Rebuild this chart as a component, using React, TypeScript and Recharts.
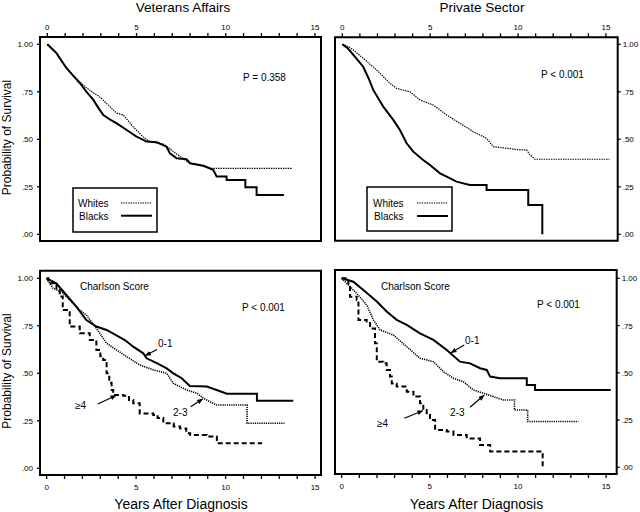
import React from 'react';
import { LineChart, Line, XAxis, YAxis, ReferenceArea } from 'recharts';

type Pt = { t: number; s: number };
const P = (arr: number[][]): Pt[] => arr.map(([t, s]) => ({ t, s }));

const xTicks = [0, 1, 2, 3, 4, 5, 6, 7, 8, 9, 10, 11, 12, 13, 14, 15];
const xTickLabels = [0, 5, 10, 15];
const yTicks = [0, 0.25, 0.5, 0.75, 1];
const yTickLabels = ['.00', '.25', '.50', '.75', '1.00'];

const vaWhites = P([[0,1],[0.5,.955],[1.08,.874],[1.5,.83],[2.0,.786],[2.5,.75],[2.95,.722],[3.5,.672],[3.9,.637],[4.26,.628],[4.8,.567],[5.4,.51],[5.75,.488],[6.5,.475],[6.8,.455],[7.06,.435],[7.43,.41],[8.0,.374],[8.5,.365],[8.93,.356],[9.2,.347],[13.7,.347]]);
const vaBlacks = P([[0,1],[0.5,.955],[1.08,.874],[1.5,.83],[1.83,.795],[2.2,.75],[2.58,.707],[2.9,.66],[3.14,.628],[3.5,.605],[3.89,.584],[4.45,.549],[5.0,.514],[5.57,.488],[6.13,.484],[6.69,.461],[6.87,.426],[7.25,.4],[7.8,.395],[8.0,.374],[8.74,.361],[9.3,.339],[9.49,.304],[10.05,.304],[10.05,.286],[11.1,.286],[11.1,.247],[11.73,.247],[11.73,.207],[13.26,.207]]);

const psWhites = P([[0,1],[0.3,.99],[0.63,.97],[1.19,.926],[1.95,.865],[2.71,.795],[3.09,.768],[3.85,.75],[4.42,.707],[5.18,.68],[5.94,.628],[6.69,.584],[7.45,.54],[8.21,.505],[8.59,.461],[9.35,.453],[10.1,.444],[10.49,.444],[10.68,.418],[10.96,.395],[15.2,.395]]);
const psBlacks = P([[0,1],[0.3,.98],[0.63,.944],[1.19,.882],[1.5,.82],[1.76,.76],[2.33,.672],[2.9,.602],[3.28,.549],[3.66,.479],[4.04,.435],[4.6,.391],[4.99,.365],[5.56,.321],[5.94,.304],[6.5,.277],[7.26,.26],[8.21,.26],[8.21,.233],[10.58,.233],[10.58,.154],[11.38,.154],[11.38,0]]);

const vaC01 = P([[0,1],[0.54,.974],[1.1,.912],[1.66,.851],[2.22,.78],[2.78,.746],[3.35,.728],[3.9,.70],[4.37,.675],[4.84,.64],[5.4,.605],[5.59,.579],[6.15,.553],[6.71,.526],[7.08,.5],[7.55,.474],[8.0,.433],[8.95,.43],[9.5,.412],[10.07,.393],[11.75,.393],[11.75,.356],[13.78,.356]]);
const vaC23 = P([[0,1],[0.36,.947],[0.8,.93],[1.1,.904],[1.85,.833],[2.22,.807],[2.78,.737],[3.35,.658],[3.9,.623],[4.47,.588],[5.2,.544],[5.96,.518],[6.71,.5],[7.08,.447],[7.83,.412],[8.4,.395],[8.77,.368],[9.5,.333],[11.2,.333],[11.2,.237],[13.29,.237]]);
const vaC4 = P([[0,1],[0.1,.974],[0.55,.94],[0.73,.904],[0.9,.833],[1.29,.746],[1.85,.711],[2.41,.675],[2.78,.623],[3.0,.59],[3.16,.57],[3.35,.5],[3.5,.45],[3.63,.412],[3.72,.386],[4.28,.382],[4.6,.36],[4.84,.342],[5.2,.289],[5.96,.281],[6.2,.265],[6.52,.237],[7.1,.22],[7.46,.21],[7.8,.185],[8.02,.175],[8.95,.167],[9.51,.132],[12.04,.132]]);

const psC01 = P([[0,1],[0.66,.982],[1.23,.938],[1.99,.877],[2.55,.824],[3.12,.78],[3.69,.753],[4.44,.709],[5.2,.674],[5.96,.621],[6.71,.559],[7.28,.55],[7.85,.524],[8.23,.515],[8.42,.48],[8.98,.471],[10.5,.471],[10.5,.436],[10.97,.436],[10.97,.409],[15.26,.409]]);
const psC23 = P([[0,1],[0.47,.956],[0.85,.92],[1.42,.859],[1.8,.78],[2.17,.727],[2.93,.7],[3.69,.638],[4.44,.577],[5.2,.559],[5.77,.506],[6.34,.471],[6.9,.453],[7.47,.409],[8.04,.392],[8.6,.374],[9.17,.356],[9.8,.356],[9.8,.303],[10.55,.303],[10.55,.242],[13.43,.242]]);
const psC4 = P([[0,1],[0.38,.965],[0.47,.903],[0.85,.885],[0.95,.78],[1.42,.771],[1.61,.735],[1.89,.656],[1.99,.559],[2.36,.55],[2.55,.515],[2.74,.48],[2.84,.444],[3.12,.427],[3.5,.427],[3.69,.4],[4.07,.374],[4.44,.339],[4.63,.303],[4.82,.286],[5.01,.25],[5.3,.198],[5.96,.189],[6.34,.171],[7.09,.153],[7.85,.118],[8.42,.083],[11.4,.083],[11.4,0]]);

const FONT = '"Liberation Sans", Arial, Helvetica, sans-serif';
const W = 640, H = 512;

type Series = { data: Pt[]; width: number; dash?: string; type: 'linear' | 'stepAfter' };

const solid = (data: Pt[]): Series => ({ data, width: 2, type: 'linear' });
const dotted = (data: Pt[]): Series => ({ data, width: 1.2, dash: '1.4 1', type: 'linear' });
const dotted2 = (data: Pt[]): Series => ({ data, width: 1.6, dash: '1.2 1', type: 'linear' });
const dashed = (data: Pt[]): Series => ({ data, width: 2, dash: '5 3', type: 'stepAfter' });

type PanelProps = {
  box: { l: number; t: number; r: number; b: number };
  xDomain: [number, number];
  yDomain: [number, number];
  xOrient: 'top' | 'bottom';
  yOrient: 'left' | 'right';
  series: Series[];
};

function Panel({ box, xDomain, yDomain, xOrient, yOrient, series }: PanelProps) {
  const XH = 18, YW = 20;
  const margin = {
    top: xOrient === 'top' ? box.t - XH : box.t,
    bottom: xOrient === 'bottom' ? H - box.b - XH : H - box.b,
    left: yOrient === 'left' ? box.l - YW : box.l,
    right: yOrient === 'right' ? W - box.r - YW : W - box.r,
  };
  const xTick = (props: any) => {
    const { x, y, payload } = props;
    if (!xTickLabels.includes(payload.value)) return <g />;
    return (
      <text x={x} y={y} dy={xOrient === 'top' ? -1 : 9} textAnchor="middle" fontSize={8} fontFamily={FONT} fill="#000">
        {payload.value}
      </text>
    );
  };
  const yTick = (props: any) => {
    const { x, y, payload } = props;
    const idx = yTicks.indexOf(payload.value);
    return (
      <text x={x} y={y} dy={3} textAnchor={yOrient === 'left' ? 'end' : 'start'} fontSize={8} fontFamily={FONT} fill="#000">
        {yTickLabels[idx]}
      </text>
    );
  };
  return (
    <div style={{ position: 'absolute', left: 0, top: 0 }}>
      <LineChart width={W} height={H} margin={margin}>
        <XAxis
          type="number"
          dataKey="t"
          domain={xDomain}
          ticks={xTicks}
          interval={0}
          allowDataOverflow
          orientation={xOrient}
          height={XH}
          axisLine={false}
          tickLine={{ stroke: '#000', strokeWidth: 1.3 }}
          tickSize={4}
          tickMargin={2}
          tick={xTick}
        />
        <YAxis
          type="number"
          dataKey="s"
          domain={yDomain}
          ticks={yTicks}
          interval={0}
          allowDataOverflow
          orientation={yOrient}
          width={YW}
          axisLine={false}
          tickLine={{ stroke: '#000', strokeWidth: 1.3 }}
          tickSize={3}
          tickMargin={yOrient === 'left' ? 4 : 2}
          tick={yTick}
        />
        <ReferenceArea x1={xDomain[0]} x2={xDomain[1]} y1={yDomain[0]} y2={yDomain[1]} fill="none" fillOpacity={0} stroke="#000" strokeWidth={2} ifOverflow="visible" />
        {series.map((s, i) => (
          <Line
            key={i}
            data={s.data}
            dataKey="s"
            type={s.type}
            stroke="#000"
            strokeWidth={s.width}
            strokeDasharray={s.dash}
            dot={false}
            activeDot={false}
            isAnimationActive={false}
          />
        ))}
      </LineChart>
    </div>
  );
}

function Arrow({ x1, y1, x2, y2 }: { x1: number; y1: number; x2: number; y2: number }) {
  return <line x1={x1} y1={y1} x2={x2} y2={y2} stroke="#000" strokeWidth={1.2} markerEnd="url(#ah)" />;
}

function Overlay() {
  const t = { fontFamily: FONT, fill: '#000' } as const;
  return (
    <svg width={W} height={H} style={{ position: 'absolute', left: 0, top: 0 }}>
      <defs>
        <marker id="ah" viewBox="0 0 10 10" refX="9" refY="5" markerWidth="6" markerHeight="6" orient="auto-start-reverse" markerUnits="userSpaceOnUse">
          <path d="M0,1 L10,5 L0,9 z" fill="#000" />
        </marker>
      </defs>
      <text x={183} y={12} textAnchor="middle" fontSize={13.5} {...t}>Veterans Affairs</text>
      <text x={482} y={12} textAnchor="middle" fontSize={13.5} {...t}>Private Sector</text>
      <text x={181} y={509} textAnchor="middle" fontSize={14} {...t}>Years After Diagnosis</text>
      <text x={476.5} y={509} textAnchor="middle" fontSize={14} {...t}>Years After Diagnosis</text>
      <text transform="translate(11,137.5) rotate(-90)" textAnchor="middle" fontSize={12} {...t}>Probability of Survival</text>
      <text transform="translate(11,371) rotate(-90)" textAnchor="middle" fontSize={12} {...t}>Probability of Survival</text>

      <text x={243} y={80.5} fontSize={10} {...t}>P  = 0.358</text>
      <text x={541} y={77.5} fontSize={10} {...t}>P &lt; 0.001</text>
      <text x={242} y={311} fontSize={10} {...t}>P &lt; 0.001</text>
      <text x={537} y={308} fontSize={10} {...t}>P &lt; 0.001</text>

      <rect x={73} y={188} width={84} height={44} fill="#fff" stroke="#000" strokeWidth={1.5} />
      <text x={78} y={207} fontSize={10} {...t}>Whites</text>
      <text x={79} y={219.5} fontSize={10} {...t}>Blacks</text>
      <line x1={121} y1={203} x2={152} y2={203} stroke="#000" strokeWidth={1.2} strokeDasharray="1.4 1" />
      <line x1={121} y1={215.7} x2={152} y2={215.7} stroke="#000" strokeWidth={2} />

      <rect x={367} y={187} width={85} height={44} fill="#fff" stroke="#000" strokeWidth={1.5} />
      <text x={373} y={207} fontSize={10} {...t}>Whites</text>
      <text x={374} y={219.5} fontSize={10} {...t}>Blacks</text>
      <line x1={417} y1={203} x2={448} y2={203} stroke="#000" strokeWidth={1.2} strokeDasharray="1.4 1" />
      <line x1={417} y1={216} x2={448} y2={216} stroke="#000" strokeWidth={2} />

      <text x={80} y={290} fontSize={10} {...t}>Charlson Score</text>
      <text x={381} y={290} fontSize={10} {...t}>Charlson Score</text>

      <text x={158} y={347} fontSize={10} {...t}>0-1</text>
      <Arrow x1={157} y1={349.5} x2={145.5} y2={355.5} />
      <text x={173} y={415.5} fontSize={10} {...t}>2-3</text>
      <Arrow x1={190.7} y1={406.7} x2={202.5} y2={399} />
      <text x={75} y={409} fontSize={10} {...t}>≥4</text>
      <Arrow x1={97.7} y1={404} x2={116} y2={395.5} />

      <text x={465} y={344.3} fontSize={10} {...t}>0-1</text>
      <Arrow x1={464.3} y1={345} x2={451} y2={352.7} />
      <text x={450} y={415.7} fontSize={10} {...t}>2-3</text>
      <Arrow x1={470} y1={407.3} x2={484} y2={395.3} />
      <text x={377} y={426.7} fontSize={10} {...t}>≥4</text>
      <Arrow x1={404.3} y1={418.3} x2={422.7} y2={410.7} />
    </svg>
  );
}

export default function App() {
  return (
    <div style={{ position: 'absolute', left: 0, top: 0, width: W, height: H, background: '#fff', overflow: 'hidden' }}>
      <Panel
        box={{ l: 40, t: 37, r: 321, b: 241 }}
        xDomain={[-0.41, 15.34]}
        yDomain={[-0.0353, 1.0384]}
        xOrient="top"
        yOrient="left"
        series={[dotted(vaWhites), solid(vaBlacks)]}
      />
      <Panel
        box={{ l: 335, t: 37.3, r: 617.7, b: 240.7 }}
        xDomain={[-0.415, 15.67]}
        yDomain={[-0.0337, 1.0368]}
        xOrient="top"
        yOrient="right"
        series={[dotted(psWhites), solid(psBlacks)]}
      />
      <Panel
        box={{ l: 40, t: 270.7, r: 321, b: 475 }}
        xDomain={[-0.37, 15.33]}
        yDomain={[-0.0353, 1.04]}
        xOrient="bottom"
        yOrient="left"
        series={[dashed(vaC4), dotted2(vaC23), solid(vaC01)]}
      />
      <Panel
        box={{ l: 335, t: 270, r: 616.7, b: 474 }}
        xDomain={[-0.38, 15.6]}
        yDomain={[-0.0354, 1.0439]}
        xOrient="bottom"
        yOrient="right"
        series={[dashed(psC4), dotted2(psC23), solid(psC01)]}
      />
      <Overlay />
    </div>
  );
}
